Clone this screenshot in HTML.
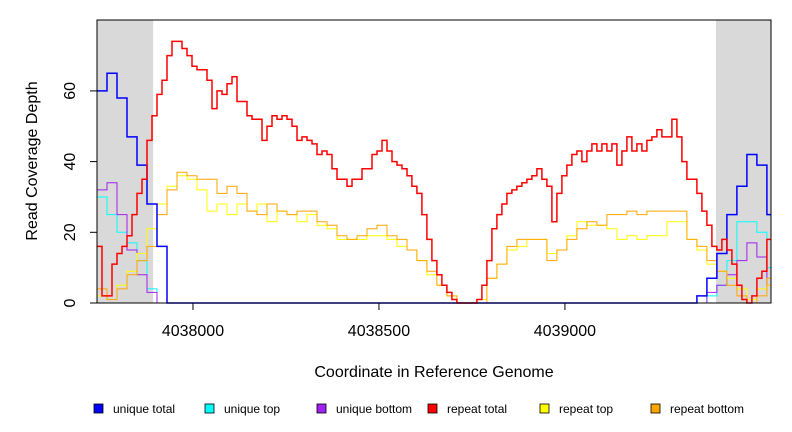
<!DOCTYPE html>
<html><head><meta charset="utf-8"><style>
body{margin:0;background:#fff;}
svg{display:block;font-family:"Liberation Sans",sans-serif;}
</style></head><body>
<svg id="chart" width="792" height="432"></svg>
<script>
// data (genome coordinate grid: start + i*step)
const redStart=4037742, redStep=13.44;
const repeatTotal=[16,2,2,11,14,16,19,25,31,35,46,53,59,63,70,74,74,72,70,67,66,66,63,55,60,59,62,64,57,57,53,52,52,46,50,53,52,53,52,50,46,47,46,45,42,43,42,38,35,35,33,35,35,38,38,42,43,46,43,40,39,38,36,33,31,25,18,12,8,5,3,1,0,0,0,0,1,5,12,21,25,28,31,32,33,34,35,36,38,35,33,23,31,36,39,42,43,40,43,45,43,45,43,45,39,43,47,43,45,43,46,47,49,47,47,52,47,40,35,35,31,26,22,16,15,18,15,11,5,1,0,2,7,9,18,23];
const othStart=4037742, othStep=26.88;
const repeatTop=[2,1,5,9,14,21,28,33,36,35,32,26,28,25,28,26,28,23,26,25,23,25,22,21,18,18,18,19,19,18,16,15,12,8,5,2,0,0,1,7,11,15,16,18,18,14,15,19,23,22,22,21,18,19,18,19,19,23,23,18,15,11,9,7,4,1,4,5];
const repeatBottom=[4,1,4,8,12,16,25,32,37,36,35,35,31,33,31,26,25,28,26,25,26,26,23,22,19,18,19,21,22,19,18,15,12,9,5,2,0,0,0,7,11,16,18,18,18,12,15,18,21,23,22,25,25,26,25,26,26,26,26,18,16,12,9,5,2,0,2,7];
const uniqueTotal=[60,65,58,47,39,28,16,0,0,0,0,0,0,0,0,0,0,0,0,0,0,0,0,0,0,0,0,0,0,0,0,0,0,0,0,0,0,0,0,0,0,0,0,0,0,0,0,0,0,0,0,0,0,0,0,0,0,0,0,0,2,7,14,25,33,42,39,25];
const uniqueTop=[30,25,20,17,12,4,0,0,0,0,0,0,0,0,0,0,0,0,0,0,0,0,0,0,0,0,0,0,0,0,0,0,0,0,0,0,0,0,0,0,0,0,0,0,0,0,0,0,0,0,0,0,0,0,0,0,0,0,0,0,0,2,5,12,23,23,20,10];
const uniqueBottom=[32,34,25,15,8,3,0,0,0,0,0,0,0,0,0,0,0,0,0,0,0,0,0,0,0,0,0,0,0,0,0,0,0,0,0,0,0,0,0,0,0,0,0,0,0,0,0,0,0,0,0,0,0,0,0,0,0,0,0,0,0,3,5,8,12,17,13,5];
const xTicks=[4038000,4038500,4039000];
const yTicks=[0,20,40,60];
const shaded=[[4037742,4037893],[4039406,4039554]];
const legendLabels=["unique total","unique top","unique bottom","repeat total","repeat top","repeat bottom"];
const legendColors=["#0000ff","#00ffff","#a020f0","#ff0000","#ffff00","#ffa500"];

const L=97,R=771,T=20,B=303;
const xMin=4037742,xMax=4039554,yMax=80.06;
const sx=v=>L+(v-xMin)/(xMax-xMin)*(R-L);
const sy=v=>B-v/yMax*(B-T);
const svg=document.getElementById('chart');
const NS='http://www.w3.org/2000/svg';
function mk(tag,attrs,parent){const e=document.createElementNS(NS,tag);for(const k in attrs)e.setAttribute(k,attrs[k]);(parent||svg).appendChild(e);return e;}

const defs=mk('defs',{});
const cp=mk('clipPath',{id:'plotclip'},defs);
mk('rect',{x:L,y:T-2,width:R-L,height:B-T+4},cp);

shaded.forEach((s,i)=>{
 const r=mk('rect',{x:sx(s[0]),y:T,width:sx(s[1])-sx(s[0]),height:B-T,fill:'#d9d9d9'});
 
 
});

const lines=mk('g',{'clip-path':'url(#plotclip)'});


function stepPath(vals,start,step,color,name,w){
 let d='';
 vals.forEach((v,i)=>{
  const x0=sx(start+i*step), x1=sx(start+(i+1)*step), y=sy(v);
  d+=(i===0?'M':'L')+x0.toFixed(1)+','+y.toFixed(1)+'L'+x1.toFixed(1)+','+y.toFixed(1);
 });
 const p=mk('path',{d:d,fill:'none',stroke:color,'stroke-width':w},lines);
 
 
}
stepPath(uniqueTop,othStart,othStep,'#00ffff','unique-top-line',1);
stepPath(uniqueBottom,othStart,othStep,'#a020f0','unique-bottom-line',1);
stepPath(repeatTop,othStart,othStep,'#ffff00','repeat-top-line',1);
stepPath(repeatBottom,othStart,othStep,'#ffa500','repeat-bottom-line',1);
stepPath(uniqueTotal,othStart,othStep,'#0000ff','unique-total-line',1.5);
stepPath(repeatTotal,redStart,redStep,'#ff0000','repeat-total-line',1.5);

const box=mk('rect',{x:L,y:T,width:R-L,height:B-T,fill:'none',stroke:'#000','stroke-width':1});



xTicks.forEach(t=>{
 const x=sx(t);
 const l=mk('line',{x1:x,y1:B,x2:x,y2:B+7,stroke:'#000'});
 
 
 const tx=mk('text',{x:x,y:336,'text-anchor':'middle','font-size':16});
 tx.textContent=t;
 
 
});
yTicks.forEach(t=>{
 const y=sy(t);
 const l=mk('line',{x1:L,y1:y,x2:L-7,y2:y,stroke:'#000'});
 
 
 const tx=mk('text',{x:0,y:0,'text-anchor':'middle','font-size':16,transform:`translate(75,${y}) rotate(-90)`});
 tx.textContent=t;
 
 
});
const xt=mk('text',{x:434,y:377,'text-anchor':'middle','font-size':16});
xt.textContent='Coordinate in Reference Genome';


const yt=mk('text',{x:0,y:0,'text-anchor':'middle','font-size':16,transform:'translate(37,161) rotate(-90)'});
yt.textContent='Read Coverage Depth';



const lx=[94,205,317,428,540,651];
legendLabels.forEach((lab,i)=>{
 const g=mk('g',{});
 
 
 mk('rect',{x:lx[i],y:404,width:9,height:9,fill:legendColors[i],stroke:'#000','stroke-width':0.8},g);
 const t=mk('text',{x:lx[i]+19,y:413,'font-size':12},g);
 t.textContent=lab;
});
</script>
</body></html>
